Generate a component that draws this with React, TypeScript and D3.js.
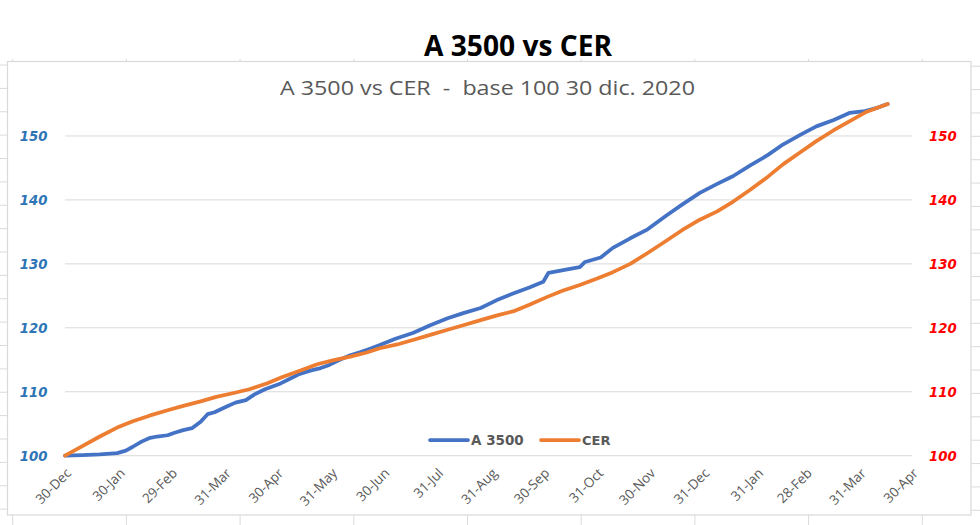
import React from 'react';
import * as d3 from 'd3';

const tickDates = ['2019-12-30','2020-01-30','2020-02-29','2020-03-31','2020-04-30','2020-05-31','2020-06-30','2020-07-31','2020-08-31','2020-09-30','2020-10-31','2020-11-30','2020-12-31','2021-01-31','2021-02-28','2021-03-31','2021-04-30'];
const yTicks = [100, 110, 120, 130, 140, 150];

const a3500Dates = ['2019-12-30','2020-01-09','2020-01-19','2020-01-29','2020-02-03','2020-02-07','2020-02-12','2020-02-17','2020-02-21','2020-02-27','2020-03-02','2020-03-07','2020-03-12','2020-03-17','2020-03-21','2020-03-25','2020-04-01','2020-04-06','2020-04-12','2020-04-17','2020-04-23','2020-05-02','2020-05-07','2020-05-13','2020-05-19','2020-05-25','2020-05-30','2020-06-05','2020-06-11','2020-06-17','2020-06-22','2020-06-28','2020-07-07','2020-07-17','2020-07-27','2020-08-06','2020-08-15','2020-08-25','2020-09-03','2020-09-13','2020-09-22','2020-09-30','2020-10-03','2020-10-13','2020-10-21','2020-10-24','2020-11-02','2020-11-09','2020-11-19','2020-11-29','2020-12-10','2020-12-19','2020-12-29','2021-01-08','2021-01-17','2021-01-27','2021-02-06','2021-02-15','2021-02-25','2021-03-06','2021-03-16','2021-03-25','2021-04-03','2021-04-10','2021-04-16'];
const a3500Values = [100,100.1,100.2,100.4,100.8,101.4,102.2,102.8,103.0,103.2,103.6,104.0,104.3,105.3,106.5,106.8,107.7,108.3,108.7,109.6,110.4,111.3,112.0,112.8,113.3,113.7,114.2,115.0,115.7,116.2,116.7,117.3,118.3,119.2,120.4,121.5,122.3,123.1,124.3,125.4,126.3,127.2,128.6,129.1,129.5,130.3,131.0,132.5,134.0,135.4,137.6,139.3,141.1,142.5,143.7,145.4,147.0,148.7,150.2,151.5,152.5,153.6,153.9,154.4,155.0];

const cerDates = ['2019-12-30','2020-01-09','2020-01-19','2020-01-29','2020-02-07','2020-02-17','2020-02-27','2020-03-07','2020-03-17','2020-03-26','2020-04-05','2020-04-14','2020-04-24','2020-05-03','2020-05-13','2020-05-23','2020-06-01','2020-06-11','2020-06-20','2020-06-28','2020-07-08','2020-07-17','2020-07-27','2020-08-06','2020-08-15','2020-08-25','2020-09-03','2020-09-13','2020-09-22','2020-10-02','2020-10-11','2020-10-21','2020-10-31','2020-11-09','2020-11-19','2020-11-29','2020-12-08','2020-12-19','2020-12-29','2021-01-08','2021-01-17','2021-01-27','2021-02-06','2021-02-15','2021-02-25','2021-03-06','2021-03-16','2021-03-25','2021-04-04','2021-04-16'];
const cerValues = [100,101.5,103.0,104.4,105.4,106.3,107.1,107.8,108.5,109.2,109.8,110.4,111.3,112.3,113.3,114.3,114.9,115.5,116.1,116.8,117.4,118.1,118.9,119.7,120.4,121.2,121.9,122.6,123.6,124.8,125.8,126.7,127.7,128.7,130.0,131.7,133.3,135.3,136.9,138.2,139.7,141.6,143.6,145.6,147.5,149.2,150.9,152.3,153.8,155.0];

const seriesNames = ['A 3500', 'CER'];
const seriesColors = ['#4472C4', '#ED7D31'];

const parse = d3.timeParse('%Y-%m-%d');
const fmt = d3.timeFormat('%d-%b');

export default function App() {
  const W = 980, H = 525;
  const x = d3.scaleTime()
    .domain([parse(tickDates[0])!, parse(tickDates[tickDates.length - 1])!])
    .range([65, 912]);
  const y = d3.scaleLinear().domain([100, 155]).range([455.7, 104]);
  const line = d3.line<[Date, number]>()
    .x(d => x(d[0]))
    .y(d => y(d[1]))
    .curve(d3.curveLinear);
  const blue: [Date, number][] = a3500Dates.map((d, i) => [parse(d)!, a3500Values[i]]);
  const orange: [Date, number][] = cerDates.map((d, i) => [parse(d)!, cerValues[i]]);

  const colX = d3.range(9).map(k => 12.7 + 113.7 * k);
  const rowY = d3.range(20).map(k => 65 + 23.375 * k);
  const gridC = '#dadada';

  return (
    <div style={{ position: 'absolute', left: 0, top: 0 }}>
      <svg width={W} height={H} style={{ display: 'block', background: '#fff' }}>
        <rect x={0} y={0} width={W} height={H} fill="#fff" />
        {colX.map((cx, i) => (
          <g key={'c' + i}>
            <line x1={cx} x2={cx} y1={59} y2={62} stroke={gridC} />
            <line x1={cx} x2={cx} y1={515} y2={525} stroke={gridC} />
          </g>
        ))}
        {rowY.map((ry, i) => (
          <g key={'r' + i}>
            <line x1={0} x2={7} y1={ry} y2={ry} stroke={gridC} />
            <line x1={971} x2={980} y1={ry + 1.2} y2={ry + 1.2} stroke={gridC} />
          </g>
        ))}
        <rect x={7.5} y={61.5} width={963.5} height={453.5} fill="#fff" stroke="#d9d9d9" strokeWidth={1.2} />

        <text x={518} y={56} textAnchor="middle" fontFamily="'Open Sans', sans-serif" fontWeight={700} fontSize={29} fill="#000" textLength={188} lengthAdjust="spacingAndGlyphs">A 3500 vs CER</text>
        <text x={487.5} y={95} textAnchor="middle" fontFamily="'Open Sans', sans-serif" fontSize={19.5} fill="#595959" style={{ whiteSpace: 'pre' }} textLength={415} lengthAdjust="spacingAndGlyphs">{'A 3500 vs CER  -  base 100 30 dic. 2020'}</text>

        {yTicks.map(t => (
          <line key={'g' + t} x1={65} x2={912} y1={y(t)} y2={y(t)} stroke="#d9d9d9" strokeWidth={1} />
        ))}

        <path d={line(blue) || ''} fill="none" stroke={seriesColors[0]} strokeWidth={3.75} strokeLinejoin="round" strokeLinecap="round" />
        <path d={line(orange) || ''} fill="none" stroke={seriesColors[1]} strokeWidth={3.75} strokeLinejoin="round" strokeLinecap="round" />

        {yTicks.map(t => (
          <text key={'yl' + t} x={47.5} y={y(t) + 4.8} textAnchor="end" fontFamily="'DejaVu Sans', sans-serif" fontWeight={700} fontStyle="italic" fontSize={13.3} fill="#2E75B6">{t}</text>
        ))}
        {yTicks.map(t => (
          <text key={'yr' + t} x={929} y={y(t) + 4.8} textAnchor="start" fontFamily="'DejaVu Sans', sans-serif" fontWeight={700} fontStyle="italic" fontSize={13.3} fill="#FF0000">{t}</text>
        ))}

        {tickDates.map(d => {
          const px = x(parse(d)!);
          return (
            <text key={'xl' + d} transform={`translate(${px + 7},${474}) rotate(-45)`} textAnchor="end" fontFamily="'Open Sans', sans-serif" fontSize={13.5} fill="#595959">{fmt(parse(d)!)}</text>
          );
        })}

        <line x1={430} x2={468} y1={440} y2={440} stroke={seriesColors[0]} strokeWidth={3.75} strokeLinecap="round" />
        <text x={471} y={444.5} fontFamily="'DejaVu Sans', sans-serif" fontWeight={700} fontSize={13.5} fill="#595959">{seriesNames[0]}</text>
        <line x1={541} x2={579} y1={440} y2={440} stroke={seriesColors[1]} strokeWidth={3.75} strokeLinecap="round" />
        <text x={582} y={444.5} fontFamily="'DejaVu Sans', sans-serif" fontWeight={700} fontSize={13} fill="#595959">{seriesNames[1]}</text>
      </svg>
    </div>
  );
}
